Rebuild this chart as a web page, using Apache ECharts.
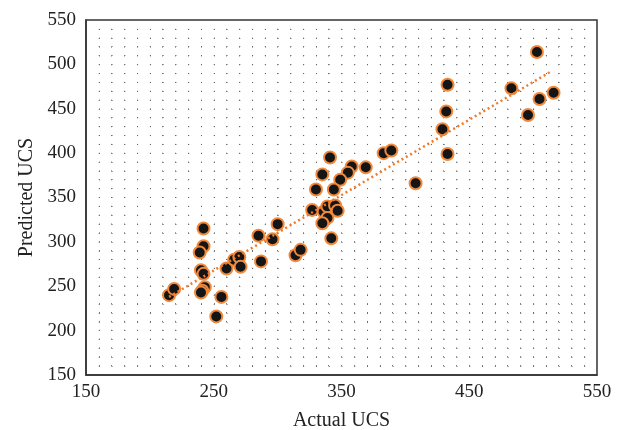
<!DOCTYPE html>
<html>
<head>
<meta charset="utf-8">
<script src="https://cdn.jsdelivr.net/npm/echarts@6/dist/echarts.min.js"></script>
<style>
  html, body { margin: 0; padding: 0; background: #fff; }
  #chart { width: 621px; height: 430px; }
</style>
</head>
<body>
<div id="chart"></div>
<script>
// 实测值 / 预测值
const actualUCS = [
  215, 219, 242, 242, 239, 240, 242, 243, 241, 240, 256, 252, 260, 266, 270, 271,
  287, 285, 296, 300, 314, 318,
  327, 336, 339, 345, 347, 339, 335, 342,
  341, 335, 358, 355, 369, 349, 330, 344,
  383, 389, 408, 429, 432, 433, 433, 483, 503, 505, 516, 496
];
const predictedUCS = [
  240, 247, 315, 295, 288, 268, 264, 249, 245, 243, 238, 216, 270, 280, 283, 272,
  278, 307, 303, 320, 285, 291,
  336, 334, 340, 341, 335, 327, 321, 304,
  395, 376, 385, 378, 384, 370, 359, 359,
  400, 403, 366, 427, 447, 477, 399, 473, 514, 461, 468, 443
];

// 趋势线端点
const trendX = [215, 514];
const trendY = [238, 492];

const tickLabels = ['150', '250', '350', '450', '550'];

const pointData = actualUCS.map((x, i) => [x, predictedUCS[i]]);
const trendData = trendX.map((x, i) => [x, trendY[i]]);

const serif = '"Liberation Serif", "DejaVu Serif", serif';

const dotGridX = { show: true, lineStyle: { color: '#666', width: 1, type: [1, 7.85] } };
const dotGridY = { show: true, lineStyle: { color: '#666', width: 1, type: [1, 11.775] } };

const chart = echarts.init(document.getElementById('chart'));

chart.setOption({
  animation: false,
  grid: {
    left: 86, right: 24, top: 20, bottom: 55,
    outerBoundsMode: 'none',
    containLabel: false,
    show: true, borderColor: '#333', borderWidth: 1.5, backgroundColor: 'transparent'
  },
  xAxis: {
    type: 'value',
    min: 150, max: 550, interval: 50,
    name: 'Actual UCS',
    nameLocation: 'middle',
    nameGap: 36,
    nameTextStyle: { fontFamily: serif, fontSize: 20, color: '#222' },
    axisLine: { show: true, lineStyle: { color: '#333', width: 1.5 } },
    axisTick: { show: false },
    axisLabel: {
      fontFamily: serif, fontSize: 19, color: '#222', margin: 8,
      formatter: v => tickLabels.includes(String(v)) ? String(v) : ''
    },
    splitLine: dotGridX,
    minorTick: { show: false, splitNumber: 5 },
    minorSplitLine: dotGridX
  },
  yAxis: {
    type: 'value',
    min: 150, max: 550, interval: 50,
    name: 'Predicted UCS',
    nameLocation: 'middle',
    nameGap: 48,
    nameTextStyle: { fontFamily: serif, fontSize: 20, color: '#222' },
    axisLine: { show: true, lineStyle: { color: '#333', width: 1.5 } },
    axisTick: { show: false },
    axisLabel: { fontFamily: serif, fontSize: 19, color: '#222', margin: 10 },
    splitLine: dotGridY,
    minorTick: { show: false, splitNumber: 5 },
    minorSplitLine: dotGridY
  },
  series: [
    {
      name: 'trend',
      type: 'line',
      data: trendData,
      showSymbol: false,
      silent: true,
      lineStyle: { color: '#f07a28', width: 2.5, type: [2, 3] },
      z: 3
    },
    {
      name: 'UCS',
      type: 'scatter',
      data: pointData,
      symbolSize: 12,
      itemStyle: { color: '#151515', borderColor: '#f0893c', borderWidth: 2, opacity: 1 },
      z: 2
    }
  ]
});
</script>
</body>
</html>
